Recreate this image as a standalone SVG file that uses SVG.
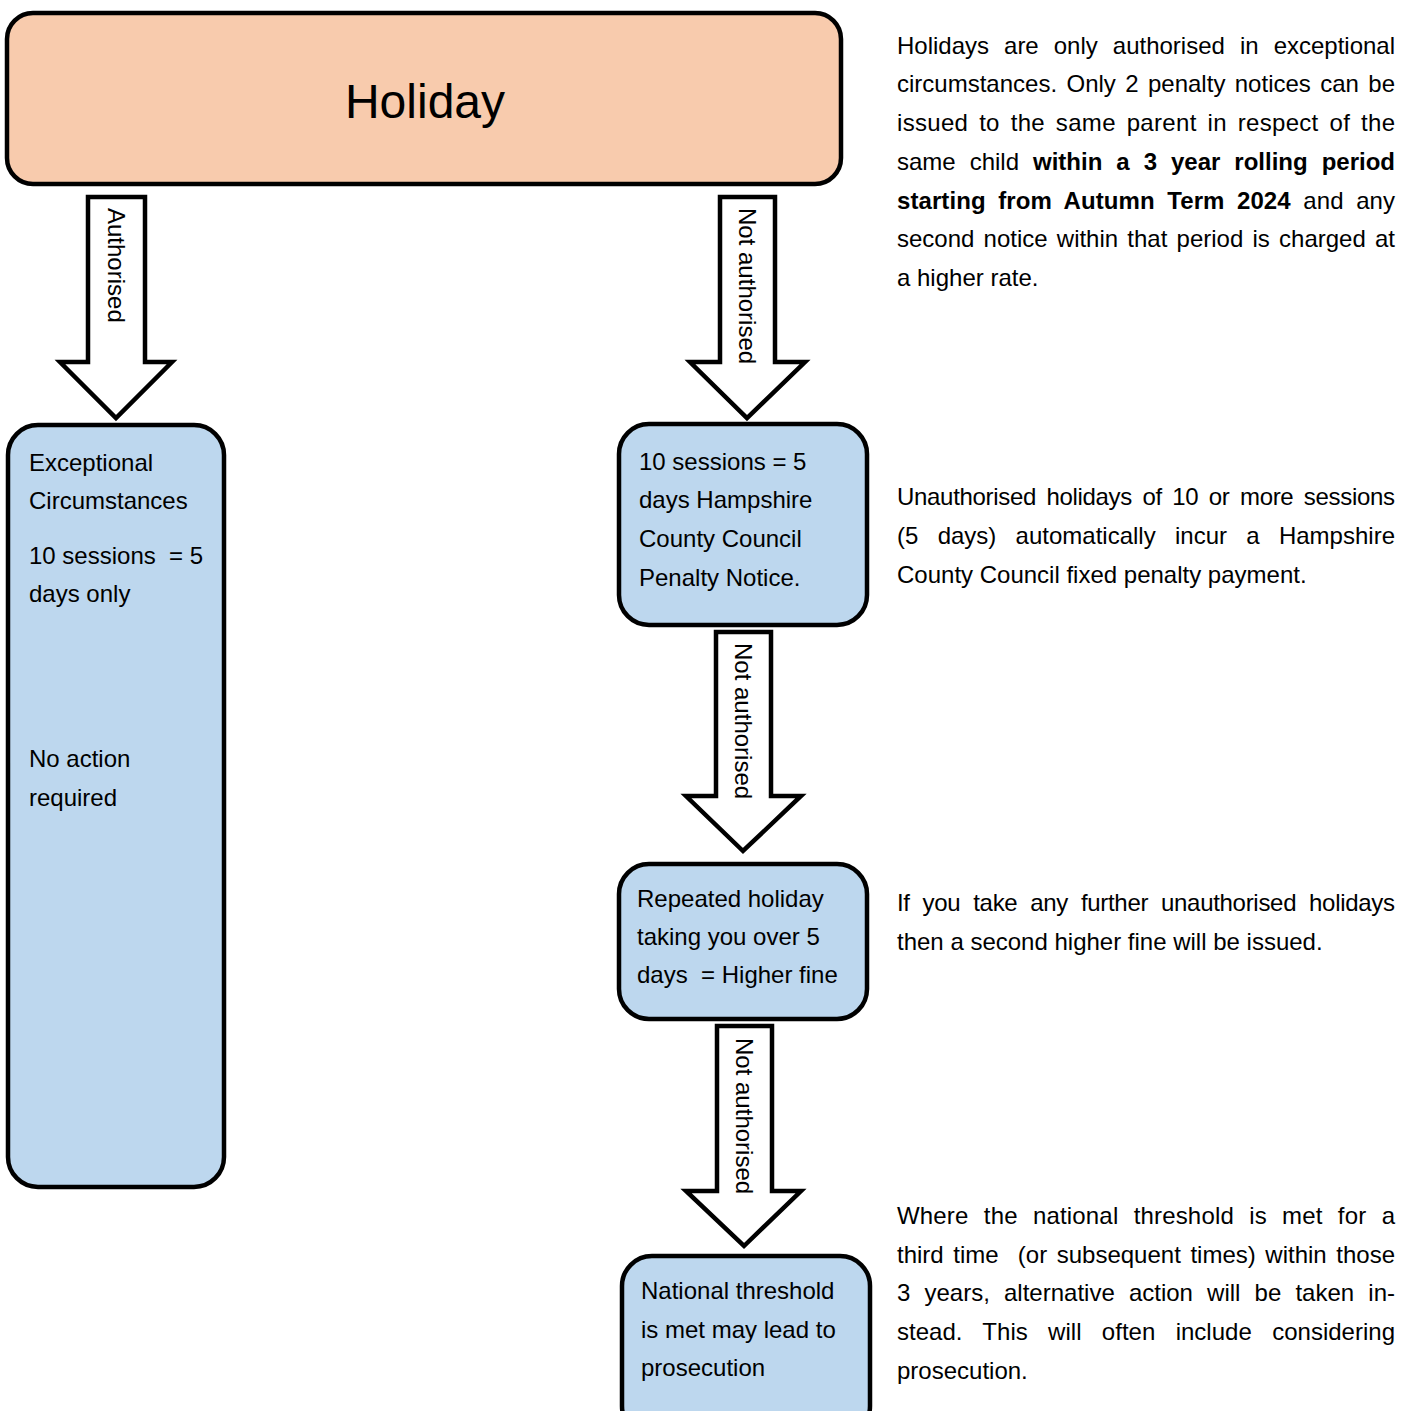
<svg xmlns="http://www.w3.org/2000/svg" width="1414" height="1411" viewBox="0 0 1414 1411">
<style>
.box{stroke:#000;stroke-width:4.5}
.blue{fill:#BDD7EE}
.peach{fill:#F8CBAD}
.arrow{fill:#fff;stroke:#000;stroke-width:4.5;stroke-linejoin:miter}
text{font-family:"Liberation Sans",Arial,sans-serif;font-size:24px;fill:#000}
.title{font-size:48px}
.b{font-weight:bold}
</style>
<rect width="1414" height="1411" fill="#fff"/>
<g id="connectors">
  <g id="arrow-authorised">
    <polygon class="arrow" points="88,197 145,197 145,362 172,362 116,418 60,362 88,362"/>
    <text transform="translate(108,208) rotate(90)">Authorised</text>
  </g>
  <g id="arrow-not-authorised-1">
    <polygon class="arrow" points="720,197 775,197 775,362 805,362 747,418 690,362 720,362"/>
    <text transform="translate(739,208) rotate(90)">Not authorised</text>
  </g>
  <g id="arrow-not-authorised-2">
    <polygon class="arrow" points="716,632 771,632 771,796 801,796 743,851 686,796 716,796"/>
    <text transform="translate(735,643) rotate(90)">Not authorised</text>
  </g>
  <g id="arrow-not-authorised-3">
    <polygon class="arrow" points="717,1026 772,1026 772,1191 801,1191 744,1246 686,1191 717,1191"/>
    <text transform="translate(736,1038) rotate(90)">Not authorised</text>
  </g>
</g>
<g id="holiday">
  <rect class="box peach" x="7" y="13" width="834" height="171" rx="26"/>
  <text class="title" x="425" y="118" text-anchor="middle">Holiday</text>
</g>
<g id="authorised-box">
  <rect class="box blue" x="8" y="425" width="216" height="762" rx="30"/>
  <text x="29" y="471">Exceptional</text>
  <text x="29" y="509">Circumstances</text>
  <text x="29" y="564" xml:space="preserve">10 sessions  = 5</text>
  <text x="29" y="602">days only</text>
  <text x="29" y="767">No action</text>
  <text x="29" y="806">required</text>
</g>
<g id="penalty-notice">
  <rect class="box blue" x="619" y="424" width="248" height="201" rx="30"/>
  <text x="639" y="470">10 sessions = 5</text>
  <text x="639" y="508">days Hampshire</text>
  <text x="639" y="547">County Council</text>
  <text x="639" y="586">Penalty Notice.</text>
</g>
<g id="higher-fine">
  <rect class="box blue" x="619" y="864" width="248" height="155" rx="30"/>
  <text x="637" y="907">Repeated holiday</text>
  <text x="637" y="945">taking you over 5</text>
  <text x="637" y="983" xml:space="preserve">days  = Higher fine</text>
</g>
<g id="prosecution">
  <rect class="box blue" x="622" y="1256" width="248" height="180" rx="30"/>
  <text x="641" y="1299">National threshold</text>
  <text x="641" y="1338">is met may lead to</text>
  <text x="641" y="1376">prosecution</text>
</g>
<g id="notes">
  <text x="897" y="54" word-spacing="8.4" textLength="498" lengthAdjust="spacing">Holidays are only authorised in exceptional</text>
  <text x="897" y="92" word-spacing="2.7" textLength="498" lengthAdjust="spacing">circumstances. Only 2 penalty notices can be</text>
  <text x="897" y="131" word-spacing="3.9" textLength="498" lengthAdjust="spacing">issued to the same parent in respect of the</text>
  <text x="897" y="170" word-spacing="7.3" textLength="498" lengthAdjust="spacing">same child <tspan class="b">within a 3 year rolling period</tspan></text>
  <text x="897" y="209" word-spacing="5.8" textLength="498" lengthAdjust="spacing"><tspan class="b">starting from Autumn Term 2024</tspan> and any</text>
  <text x="897" y="247" word-spacing="2.6" textLength="498" lengthAdjust="spacing">second notice within that period is charged at</text>
  <text x="897" y="286">a higher rate.</text>

  <text x="897" y="505" word-spacing="4.1" textLength="498" lengthAdjust="spacing">Unauthorised holidays of 10 or more sessions</text>
  <text x="897" y="544" word-spacing="12.6" textLength="498" lengthAdjust="spacing">(5 days) automatically incur a Hampshire</text>
  <text x="897" y="583">County Council fixed penalty payment.</text>

  <text x="897" y="911" word-spacing="6.5" textLength="498" lengthAdjust="spacing">If you take any further unauthorised holidays</text>
  <text x="897" y="950">then a second higher fine will be issued.</text>

  <text x="897" y="1224" word-spacing="8.4" textLength="498" lengthAdjust="spacing">Where the national threshold is met for a</text>
  <text x="897" y="1263" word-spacing="2.9" textLength="498" lengthAdjust="spacing" xml:space="preserve">third time  (or subsequent times) within those</text>
  <text x="897" y="1301" word-spacing="7.5" textLength="498" lengthAdjust="spacing">3 years, alternative action will be taken in-</text>
  <text x="897" y="1340" word-spacing="13.7" textLength="498" lengthAdjust="spacing">stead. This will often include considering</text>
  <text x="897" y="1379">prosecution.</text>
</g>
</svg>
